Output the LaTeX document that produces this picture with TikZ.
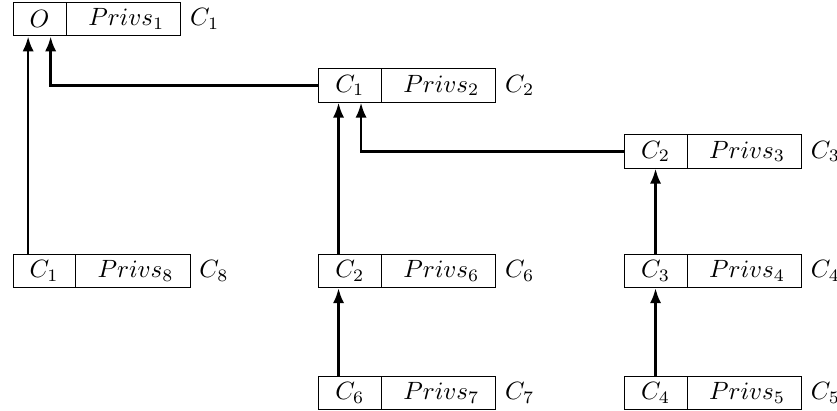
\documentclass[tikz,border=0pt]{standalone}
\usetikzlibrary{shapes.multipart, positioning, arrows.meta}

\begin{document}
\begin{tikzpicture}[x=1pt, y=1pt,
		capbox/.style={draw, rectangle split, rectangle split horizontal,
			rectangle split parts=2, inner xsep=6.6pt, inner ysep=2.5pt, anchor=west},
		link/.style={line width=1pt, -{Latex[length=6pt,width=4.5pt]}}]
		\useasboundingbox (0,0) rectangle (334.8,-164);
		\node[capbox, label=right:$C_1$]  (C1) at (5,-7.7)      {$O$ \nodepart{two} \hspace{2pt}$Privs_1$};
		\node[capbox, label=right:$C_2$]  (C2) at (127.3,-34.2) {$C_1$ \nodepart{two} \hspace{2pt}$Privs_2$};
		\node[capbox, label=right:$C_3$]  (C3) at (249.6,-60.6) {$C_2$ \nodepart{two} \hspace{2pt}$Privs_3$};
		\node[capbox, label=right:$C_8$]  (C8) at (5,-108.4)    {$C_1$ \nodepart{two} \hspace{2pt}$Privs_8$};
		\node[capbox, label=right:$C_6$]  (C6) at (127.3,-108.4) {$C_2$ \nodepart{two} \hspace{2pt}$Privs_6$};
		\node[capbox, label=right:$C_4$]  (C4) at (249.6,-108.4) {$C_3$ \nodepart{two} \hspace{2pt}$Privs_4$};
		\node[capbox, below=35pt of C6.south west, anchor=north west, label=right:$C_7$] (C7) {$C_6$ \nodepart{two} \hspace{2pt}$Privs_7$};
		\node[capbox, below=35pt of C4.south west, anchor=north west, label=right:$C_5$] (C5) {$C_4$ \nodepart{two} \hspace{2pt}$Privs_5$};
		
		% two entry points under each parent
		\coordinate (a1) at ([xshift=-4.5pt]C1.one south);
		\coordinate (b1) at ([xshift=4.5pt]C1.one south);
		\coordinate (a2) at ([xshift=-4.5pt]C2.one south);
		\coordinate (b2) at ([xshift=4.5pt]C2.one south);
		
		\draw[link] (C8.north -| a1) -- (a1);
		\draw[link] (C2.west) -| (b1);
		\draw[link] (C6.north -| a2) -- (a2);
		\draw[link] (C3.west) -| (b2);
		\draw[link] (C4.one north) -- (C3.one south);
		\draw[link] (C5.one north) -- (C4.one south);
		\draw[link] (C7.north -| a2) -- (C6.south -| a2);
	\end{tikzpicture}
\end{document}
